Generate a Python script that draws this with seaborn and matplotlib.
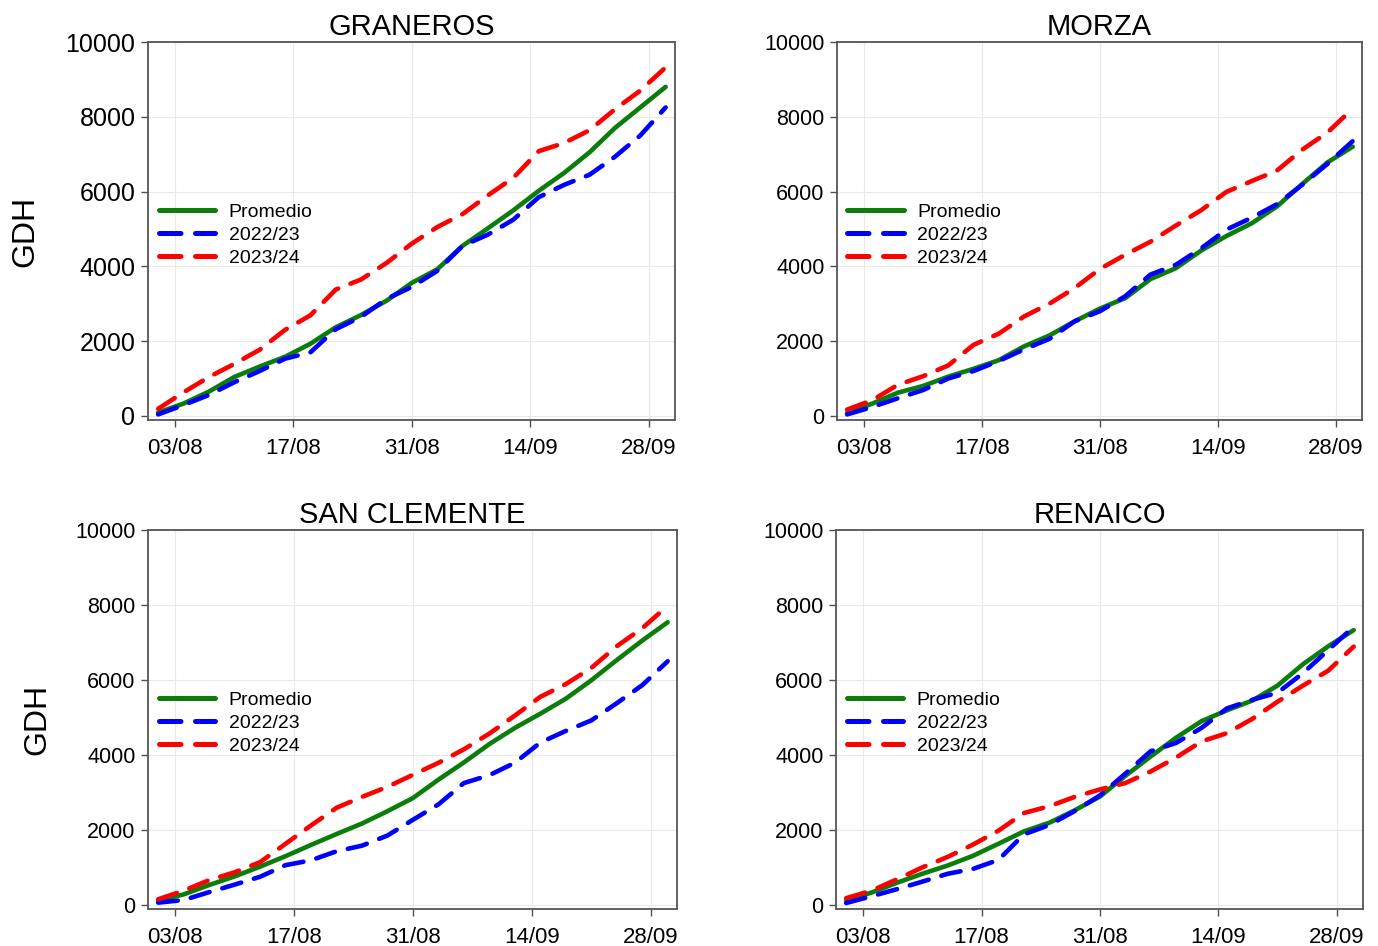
import pandas as pd
import seaborn as sns
import matplotlib.pyplot as plt

# ----------------------
# DATA: GDH acumulados (dia 1 = 01/08, dia 61 = 30/09)
# ----------------------
DAYS = [1, 4, 7, 10, 13, 16, 19, 22, 25, 28, 31, 34, 37, 40, 43, 46, 49, 52, 55, 58, 61]
XTICKS = [3, 17, 31, 45, 59]
XTICK_LABELS = ['03/08', '17/08', '31/08', '14/09', '28/09']
YTICKS = [0, 2000, 4000, 6000, 8000, 10000]
SERIES = ['Promedio', '2022/23', '2023/24']
SITES = ['GRANEROS', 'MORZA', 'SAN CLEMENTE', 'RENAICO']

graneros_prom = [90, 330, 650, 1040, 1320, 1580, 1930, 2370, 2700, 3080, 3560,
                 3920, 4550, 5020, 5500, 6020, 6500, 7050, 7700, 8250, 8800]
graneros_2223 = [40, 290, 560, 900, 1200, 1530, 1700, 2320, 2650, 3130, 3450,
                 3880, 4550, 4850, 5250, 5850, 6180, 6450, 6930, 7500, 8250]
graneros_2324 = [190, 630, 1040, 1390, 1770, 2300, 2690, 3380, 3650, 4090, 4610,
                 5050, 5400, 5900, 6370, 7080, 7300, 7640, 8200, 8700, 9320]

morza_prom = [80, 330, 620, 800, 1050, 1260, 1490, 1860, 2150, 2530, 2870,
              3150, 3660, 3950, 4420, 4810, 5150, 5600, 6200, 6780, 7200]
morza_2223 = [40, 240, 470, 690, 1000, 1200, 1470, 1780, 2060, 2530, 2800,
              3200, 3780, 4040, 4480, 4980, 5300, 5660, 6180, 6740, 7350]
morza_2324 = [170, 420, 830, 1060, 1350, 1900, 2200, 2660, 3000, 3420, 3930,
              4310, 4660, 5090, 5500, 5990, 6280, 6560, 7120, 7580, 8220]

sanclemente_prom = [120, 280, 530, 760, 1020, 1300, 1600, 1890, 2170, 2500, 2850,
                    3340, 3800, 4290, 4720, 5100, 5500, 5990, 6530, 7050, 7540]
sanclemente_2223 = [60, 130, 340, 540, 750, 1060, 1190, 1430, 1580, 1850, 2270,
                    2680, 3250, 3460, 3790, 4330, 4640, 4920, 5380, 5860, 6500]
sanclemente_2324 = [150, 380, 660, 870, 1140, 1630, 2120, 2590, 2880, 3150, 3470,
                    3790, 4150, 4570, 5050, 5550, 5890, 6320, 6900, 7380, 7980]

renaico_prom = [120, 330, 590, 830, 1050, 1310, 1630, 1960, 2190, 2520, 2890,
                3440, 3960, 4460, 4900, 5190, 5450, 5850, 6420, 6900, 7330]
renaico_2223 = [50, 230, 420, 620, 830, 960, 1200, 1880, 2130, 2500, 2920,
                3500, 4100, 4320, 4720, 5240, 5470, 5660, 6180, 6800, 7420]
renaico_2324 = [180, 380, 680, 1000, 1280, 1610, 1980, 2450, 2630, 2880, 3080,
                3250, 3560, 3930, 4360, 4580, 4960, 5420, 5850, 6250, 6890]

site_data = {
    'GRANEROS': [graneros_prom, graneros_2223, graneros_2324],
    'MORZA': [morza_prom, morza_2223, morza_2324],
    'SAN CLEMENTE': [sanclemente_prom, sanclemente_2223, sanclemente_2324],
    'RENAICO': [renaico_prom, renaico_2223, renaico_2324],
}

# ----------------------
# STYLE
# ----------------------
PALETTE = {'Promedio': '#0a7d0a', '2022/23': '#0000ff', '2023/24': '#ff0000'}
DASHES = {'Promedio': '', '2022/23': (4.3, 2.9), '2023/24': (4.3, 2.9)}

sns.set_theme(style='whitegrid')
plt.rcParams['font.family'] = ['Liberation Sans', 'DejaVu Sans']
plt.rcParams['lines.dash_capstyle'] = 'round'
plt.rcParams['lines.solid_capstyle'] = 'round'
plt.rcParams['text.color'] = 'black'
plt.rcParams['axes.labelcolor'] = 'black'
plt.rcParams['xtick.color'] = 'black'
plt.rcParams['ytick.color'] = 'black'

# axes boxes in figure fraction (left, bottom, width, height)
POSITIONS = [
    [0.1074, 0.5560, 0.3824, 0.3996],
    [0.6074, 0.5560, 0.3810, 0.3996],
    [0.1074, 0.0391, 0.3839, 0.4006],
    [0.6067, 0.0391, 0.3824, 0.4006],
]
YTICK_SIZE = [18, 15.5, 15.5, 15.5]
YLABEL_X = [-0.205, None, -0.18, None]


def long_frame(site):
    rows = []
    for name, values in zip(SERIES, site_data[site]):
        for d, v in zip(DAYS, values):
            rows.append({'dia': d, 'GDH': v, 'serie': name})
    return pd.DataFrame(rows)


fig = plt.figure(figsize=(13.78, 9.46), dpi=100)

for i, site in enumerate(SITES):
    ax = fig.add_axes(POSITIONS[i])
    df = long_frame(site)
    sns.lineplot(data=df, x='dia', y='GDH', hue='serie', style='serie',
                 hue_order=SERIES, style_order=SERIES, palette=PALETTE,
                 dashes=DASHES, linewidth=3.3, ax=ax)

    ax.set_xlim(-0.2, 62.1)
    ax.set_ylim(-110, 10000)
    ax.set_xticks(XTICKS)
    ax.set_xticklabels(XTICK_LABELS)
    ax.set_yticks(YTICKS)
    ax.tick_params(axis='x', labelsize=16, length=5, width=1, color='#505050',
                   pad=8, bottom=True)
    ax.tick_params(axis='y', labelsize=YTICK_SIZE[i], length=5, width=1,
                   color='#505050', pad=4, left=True)
    ax.grid(True, color='#e9e9e9', linewidth=0.8)
    for s in ax.spines.values():
        s.set_color('#555555')
        s.set_linewidth(1.3)

    ax.set_title(site, fontsize=21, pad=5, color='black')
    ax.set_xlabel('')
    if YLABEL_X[i] is not None:
        ax.set_ylabel('GDH', fontsize=23)
        ax.yaxis.set_label_coords(YLABEL_X[i], 0.5)
    else:
        ax.set_ylabel('')

    handles, labels = ax.get_legend_handles_labels()
    leg = ax.legend(handles, labels, loc='center left', bbox_to_anchor=(0.02, 0.49),
                    frameon=False, fontsize=14, handlelength=2.9, handletextpad=0.7,
                    labelspacing=0.28, borderaxespad=0, borderpad=0)
    for line in leg.get_lines():
        line.set_linewidth(3.6)

fig.savefig('out.png', dpi=100, facecolor='white')
